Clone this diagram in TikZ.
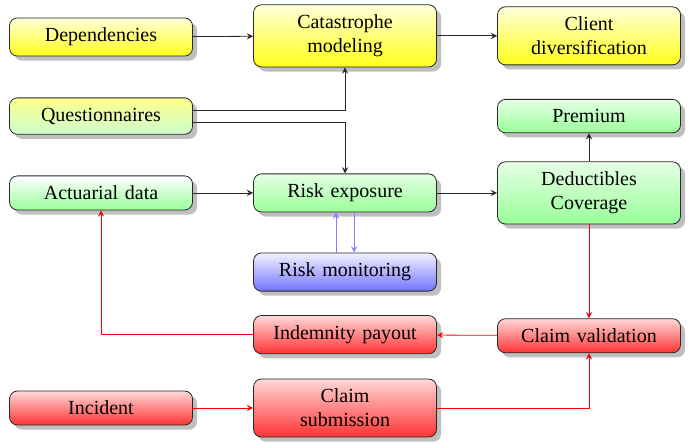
\documentclass[tikz,border=0pt]{standalone}
\usepackage{fontspec}
\setmainfont{Liberation Serif}
\usetikzlibrary{shadows,positioning}

\begin{document}
\begin{tikzpicture}[>=stealth,
		box/.style={rectangle, rounded corners=4pt, draw=black!85, text width=80pt, inner xsep=5.75pt, inner ysep=5pt, align=center, drop shadow},
		yel/.style={box, top color=yellow!15, bottom color=yellow!90},
		quest/.style={box, top color=yellow!45, bottom color=green!20},
		grn/.style={box, top color=green!10, bottom color=green!40},
		act/.style={box, top color=white, bottom color=green!40},
		blu/.style={box, top color=blue!5, bottom color=blue!55},
		rd/.style={box, top color=red!15, bottom color=red!80},
		blk/.style={->, black!85},
		redl/.style={->, red},
		bluel/.style={->, blue!50}]
		\useasboundingbox (0,0) rectangle (12.283,-7.785);

		\draw (1.775,-0.65) node [yel] (dep) {Dependencies};
		\draw (6.063,-0.63) node [yel] (cat) {Catastrophe\\modeling};
		\draw (10.35,-0.63) node [yel] (cli) {Client\\diversification};
		\draw (1.775,-2.04) node [quest] (que) {Questionnaires};
		\draw (10.35,-2.04) node [grn] (pre) {Premium};
		\draw (1.775,-3.39) node [act] (act) {Actuarial data};
		\draw (6.063,-3.39) node [grn] (exp) {Risk exposure};
		\draw (10.35,-3.39) node [grn] (ded) {Deductibles\\Coverage};
		\draw (6.063,-4.78) node [blu] (mon) {Risk monitoring};
		\draw (6.063,-5.88) node [rd] (ind) {Indemnity payout};
		\draw (10.35,-5.9) node [rd] (val) {Claim validation};
		\draw (1.775,-7.17) node [rd] (inc) {Incident};
		\draw (6.063,-7.17) node [rd] (sub) {Claim\\submission};

		\draw
			(dep) edge [blk] (cat)
			(cat) edge [blk] (cli)
			(act) edge [blk] (exp)
			(exp) edge [blk] (ded)
			(ded) edge [blk] (pre)
			(ded) edge [redl] (val)
			(val) edge [redl] (ind)
			(inc) edge [redl] (sub)
		;
		\draw [blk] ([yshift=3pt]que.east) -| (cat.south);
		\draw [blk] ([yshift=-3pt]que.east) -| (exp.north);
		\draw [bluel] ([xshift=-4.5pt]mon.north) -- ([xshift=-4.5pt]exp.south);
		\draw [bluel] ([xshift=4.5pt]exp.south) -- ([xshift=4.5pt]mon.north);
		\draw [redl] (ind.west) -| (act.south);
		\draw [redl] (sub.east) -| (val.south);
	\end{tikzpicture}
\end{document}
